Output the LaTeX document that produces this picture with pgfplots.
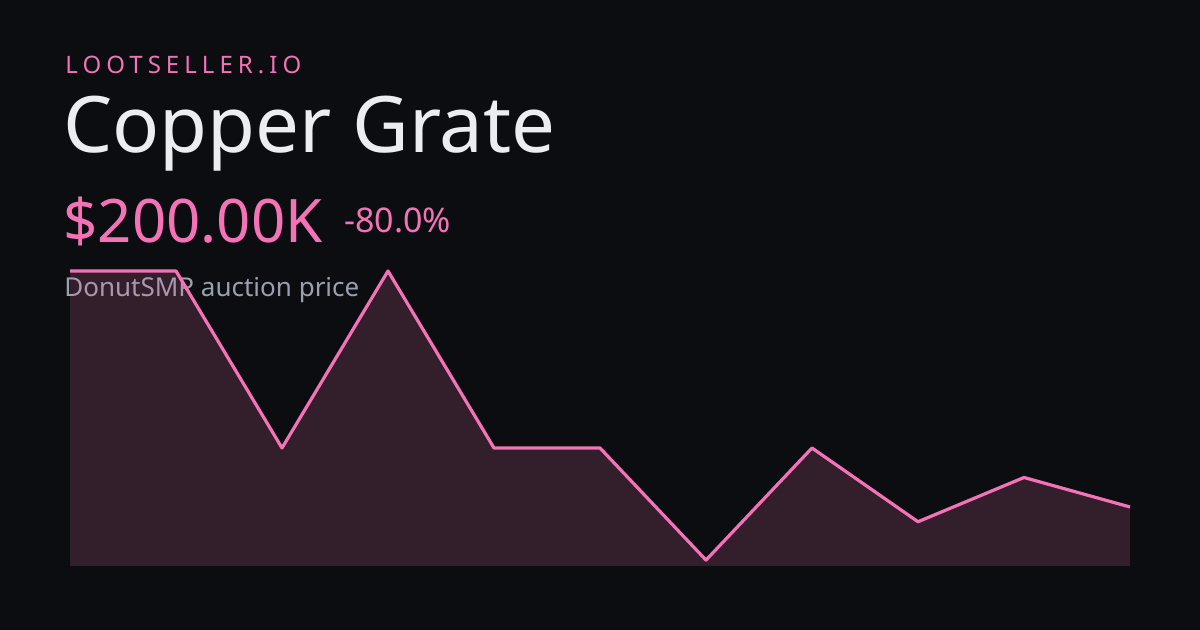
\documentclass[border=0pt]{standalone}
\usepackage{pgfplots}
\pgfplotsset{compat=1.18}
\usepackage{fontspec}
\setmainfont{Noto Sans}
\definecolor{bgc}{HTML}{0C0D10}
\definecolor{pinkc}{HTML}{F472B6}
\definecolor{titlec}{HTML}{ECEDF1}
\definecolor{grayc}{HTML}{9AA0AD}
\begin{document}
\begin{tikzpicture}
\fill[bgc] (0,0) rectangle (600pt,315pt);
\useasboundingbox (0,0) rectangle (600pt,315pt);
\node[anchor=base west, inner sep=0pt, text=pinkc, font=\fontsize{12pt}{14pt}\selectfont\addfontfeature{LetterSpace=21}] at (32.5pt,278pt) {LOOTSELLER.IO};
\node[anchor=base west, inner sep=0pt, text=titlec, font=\fontsize{39pt}{44pt}\selectfont] at (31.5pt,238.5pt) {Copper Grate};
\node[anchor=base west, inner sep=0pt, text=pinkc, font=\fontsize{30pt}{34pt}\selectfont] at (31.5pt,193.5pt) {\$200.00K};
\node[anchor=base west, inner sep=0pt, text=pinkc, font=\fontsize{17pt}{20pt}\selectfont] at (172pt,198.5pt) {-80.0\%};
\node[anchor=base west, inner sep=0pt, text=grayc, font=\fontsize{13pt}{16pt}\selectfont] at (32pt,166.5pt) {DonutSMP auction price};
\begin{axis}[
  at={(35pt,32pt)}, anchor=origin,
  width=530pt, height=147.5pt, scale only axis,
  xmin=0, xmax=10, ymin=0, ymax=1000,
  hide axis, clip=false,
]
\addplot[draw=none, fill=pinkc, fill opacity=0.17] coordinates {
(0,1000) (1,1000) (2,400) (3,1000) (4,400) (5,400) (6,20) (7,400) (8,150) (9,300) (10,200)
} \closedcycle;
\addplot[pinkc, line width=1.6pt, line join=round] coordinates {
(0,1000) (1,1000) (2,400) (3,1000) (4,400) (5,400) (6,20) (7,400) (8,150) (9,300) (10,200)
};
\end{axis}
\end{tikzpicture}
\end{document}
